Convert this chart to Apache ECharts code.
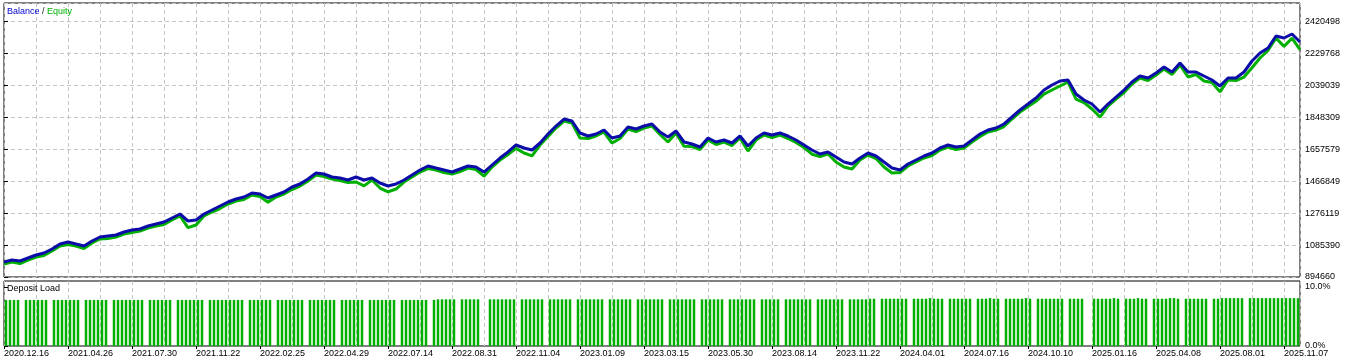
<!DOCTYPE html>
<html><head><meta charset="utf-8">
<script src="https://cdn.jsdelivr.net/npm/echarts@6/dist/echarts.min.js"></script>
<style>html,body{margin:0;padding:0;background:#fff}#c{width:1347px;height:364px}</style>
</head><body><div id="c"></div>
<script>
const dateLabels = ['2020.12.16','2021.04.26','2021.07.30','2021.11.22','2022.02.25','2022.04.29','2022.07.14','2022.08.31','2022.11.04','2023.01.09','2023.03.15','2023.05.30','2023.08.14','2023.11.22','2024.04.01','2024.07.16','2024.10.10','2025.01.16','2025.04.08','2025.08.01','2025.11.07'];
const yTickLabels = ['894660','1085390','1276119','1466849','1657579','1848309','2039039','2229768','2420498'];
const balance = [
984200,996200,990200,1008100,1026000,1038000,1061900,1091700,1103700,1091700,
1079800,1109700,1133500,1139500,1145500,1163400,1175300,1181300,1199200,1211200,
1223100,1247000,1270900,1229100,1235100,1270900,1294800,1318700,1342600,1360500,
1372400,1396300,1390300,1366400,1384400,1402300,1432100,1450100,1479900,1515700,
1509800,1491900,1485900,1473900,1491900,1473900,1485900,1456000,1438100,1450100,
1473900,1503800,1533700,1557600,1545600,1533700,1521700,1539600,1557600,1551600,
1521700,1563500,1605300,1641200,1683000,1665000,1653100,1694900,1748700,1796400,
1838200,1826300,1754600,1736700,1748700,1772500,1724800,1736700,1790500,1778500,
1796400,1808400,1760600,1730700,1766600,1700900,1688900,1671000,1724800,1700900,
1712800,1694900,1736700,1677000,1724800,1754600,1742700,1754600,1736700,1712800,
1683000,1653100,1629200,1641200,1611300,1581400,1569500,1605300,1635200,1617300,
1581400,1545600,1533700,1569500,1593400,1617300,1635200,1665000,1683000,1671000,
1677000,1712800,1748700,1772500,1784500,1808400,1850200,1892000,1927800,1963600,
2011400,2041300,2065200,2071100,1987500,1951700,1927800,1880000,1927800,1969600,
2011400,2059200,2095000,2083100,2112900,2148800,2118900,2172700,2118900,2118900,
2095000,2071100,2035300,2083100,2083100,2118900,2184600,2232400,2262200,2333900,
2322000,2345900,2298100];
const equity = [
972200,984200,975200,996100,1014000,1023000,1049900,1079700,1088700,1079700,
1064800,1097700,1121500,1124500,1133500,1151400,1160300,1169300,1187200,1199200,
1208100,1235000,1258900,1189100,1205100,1258900,1282800,1303700,1330600,1348500,
1357400,1384300,1375300,1341400,1372400,1390300,1417100,1438100,1467900,1503700,
1494800,1479900,1470900,1458900,1461900,1438900,1473900,1426000,1403100,1420100,
1461900,1491800,1521700,1542600,1533600,1518700,1509700,1524600,1545600,1536600,
1496700,1551500,1593300,1626200,1663000,1635000,1618100,1682900,1733700,1784400,
1826200,1814300,1724600,1721700,1736700,1760500,1694800,1721700,1778500,1763500,
1784400,1796400,1745600,1700700,1754600,1675900,1673900,1656000,1712800,1685900,
1700800,1679900,1724700,1647000,1712800,1742600,1727700,1742600,1721700,1697800,
1668000,1628100,1614200,1629200,1581300,1551400,1539500,1593300,1623200,1602300,
1551400,1515600,1518700,1557500,1581400,1605300,1620200,1653000,1671000,1656000,
1665000,1700800,1733700,1760500,1772500,1793400,1838200,1880000,1912800,1943600,
1986400,2011300,2035200,2059100,1957500,1936700,1897800,1850000,1915800,1957600,
1996400,2047200,2083000,2068100,2100900,2136800,2103900,2160700,2088900,2103900,
2065000,2056100,2000300,2071100,2068100,2088900,2144600,2202400,2247200,2321900,
2272000,2320900,2253100];
const depositLoad = [
7.8,7.8,7.8,7.8,0,7.8,7.8,7.8,7.8,7.8,7.8,0,7.8,7.8,7.8,7.8,7.8,7.8,7.8,0,
7.8,7.8,7.8,7.8,7.8,7.8,0,7.8,7.8,7.8,7.8,7.8,7.8,7.8,7.8,0,7.8,7.8,7.8,7.8,
7.8,7.8,0,7.8,7.8,7.8,7.8,7.8,7.8,7.8,0,7.8,7.8,7.8,7.8,7.8,7.8,7.8,7.8,7.8,
0,7.8,7.8,7.8,7.8,7.8,7.8,0,7.8,7.8,7.8,7.8,7.8,7.8,7.8,0,7.8,7.8,7.8,7.8,
7.8,7.8,7.8,0,7.8,7.8,7.8,7.8,7.8,7.8,0,7.8,7.8,7.8,7.8,7.8,7.8,7.8,0,7.8,
7.8,7.8,7.8,7.8,7.8,7.8,0,7.8,7.9,7.9,7.9,7.9,7.9,0,7.9,7.9,7.9,7.9,7.9,0,
0,7.9,7.9,7.9,7.9,7.9,7.9,7.9,0,7.9,7.9,7.9,7.9,7.9,7.9,0,7.9,7.9,7.9,7.9,
7.9,7.9,0,7.9,7.9,7.9,7.9,7.9,7.9,7.9,0,7.9,7.9,7.9,7.9,7.9,7.9,0,7.9,7.9,
7.9,7.9,7.9,7.9,7.9,0,7.9,7.9,7.9,7.9,7.9,7.9,7.9,0,7.9,7.9,7.9,7.9,7.9,7.9,
0,7.9,7.9,7.9,7.9,7.9,7.9,7.9,0,7.9,7.9,7.9,7.9,7.9,0,7.9,7.9,7.9,7.9,7.9,
7.9,7.9,0,7.9,7.9,7.9,7.9,7.9,7.9,7.9,0,7.9,7.9,7.9,7.9,7.9,8.0,8.0,0,8.0,
8.0,8.0,8.0,8.0,8.0,8.0,0,8.0,8.0,8.0,8.0,8.1,8.0,8.0,8.0,0,8.0,8.0,8.0,8.0,
8.0,8.0,0,8.0,8.0,8.0,8.1,8.0,8.0,0,8.0,8.0,8.0,8.0,8.0,8.1,8.0,0,8.0,8.0,
8.0,8.0,8.0,8.0,8.0,0,8.0,8.0,8.0,8.0,0,0,8.0,8.0,8.0,8.0,8.0,8.1,8.0,0,
8.0,8.0,8.0,8.1,8.0,8.0,0,8.0,8.0,8.0,8.0,8.1,8.1,8.0,0,8.0,8.0,8.0,8.0,8.0,
8.0,0,8.0,8.0,8.1,8.1,8.1,8.1,8.1,8.1,0,8.1,8.1,8.1,8.1,8.1,8.1,8.1,8.1,8.1,
8.1,8.1,8.1,8.1];

const FONT = '"Liberation Sans", Arial, sans-serif';
const Y_MIN = 894660, Y_STEP = 190729.75, Y_MAX = 2531000;
const TRADES = 324;
const GRID_DASH = { color: '#c4c4c4', type: [4, 3], width: 1 };

const chart = echarts.init(document.getElementById('c'), null, { renderer: 'canvas' });
chart.setOption({
  animation: false,
  backgroundColor: '#fff',
  title: [
    { text: '{b|Balance} {s|/} {e|Equity}', left: 7, top: 7, padding: 0,
      textStyle: { fontSize: 9, fontWeight: 'normal', fontFamily: FONT,
        rich: { b: { color: '#0000d0', fontSize: 9, fontFamily: FONT },
                s: { color: '#222', fontSize: 9, fontFamily: FONT },
                e: { color: '#00b000', fontSize: 9, fontFamily: FONT } } } },
    { text: 'Deposit Load', left: 7, top: 284.5, padding: 0,
      textStyle: { fontSize: 9, fontWeight: 'normal', fontFamily: FONT, color: '#000' } }
  ],
  grid: [
    { left: 4, top: 3, width: 1296, height: 274, show: true, borderColor: '#000', borderWidth: 1, backgroundColor: '#fff' },
    { left: 4, top: 281, width: 1296, height: 65, show: true, borderColor: '#000', borderWidth: 1, backgroundColor: '#fff' }
  ],
  xAxis: [
    { gridIndex: 0, type: 'value', min: 0, max: TRADES, interval: 8,
      axisLine: { show: false }, axisTick: { show: false }, axisLabel: { show: false },
      splitLine: { show: true, lineStyle: GRID_DASH } },
    { gridIndex: 1, type: 'value', min: 0, max: TRADES, interval: 8,
      axisLine: { show: false }, axisTick: { show: false }, axisLabel: { show: false },
      splitLine: { show: true, lineStyle: GRID_DASH } },
    { gridIndex: 1, type: 'value', min: 0, max: TRADES, interval: 16, position: 'bottom',
      axisLine: { show: false },
      axisTick: { show: true, length: 3, lineStyle: { color: '#000' } },
      axisLabel: { show: true, align: 'left', margin: 3, fontSize: 9, color: '#000', fontFamily: FONT,
        showMaxLabel: false,
        formatter: v => (v % 16 === 0 && dateLabels[v / 16]) ? dateLabels[v / 16] : '' },
      splitLine: { show: false } }
  ],
  yAxis: [
    { gridIndex: 0, type: 'value', position: 'right', min: Y_MIN, max: Y_MAX, interval: Y_STEP,
      axisLine: { show: false },
      axisTick: { show: true, length: 4, lineStyle: { color: '#000' } },
      axisLabel: { margin: 5, fontSize: 9, color: '#000', fontFamily: FONT, showMaxLabel: false,
        formatter: v => { const k = Math.round((v - Y_MIN) / Y_STEP);
          return (Math.abs(v - (Y_MIN + k * Y_STEP)) < 1 && yTickLabels[k]) ? yTickLabels[k] : ''; } },
      splitLine: { show: true, lineStyle: GRID_DASH } },
    { gridIndex: 1, type: 'value', position: 'right', min: 0, max: 11, interval: 10,
      axisLine: { show: false },
      axisTick: { show: true, length: 4, lineStyle: { color: '#000' } },
      axisLabel: { margin: 5, fontSize: 9, color: '#000', fontFamily: FONT, showMaxLabel: false,
        formatter: v => v === 0 ? '0.0%' : (v === 10 ? '10.0%' : '') },
      splitLine: { show: false } }
  ],
  series: [
    { type: 'line', name: 'Equity', xAxisIndex: 0, yAxisIndex: 0, showSymbol: false, z: 2,
      data: equity.map((v, i) => [i * 2, v]),
      lineStyle: { color: '#00b000', width: 3 } },
    { type: 'line', name: 'Balance', xAxisIndex: 0, yAxisIndex: 0, showSymbol: false, z: 3,
      data: balance.map((v, i) => [i * 2, v]),
      lineStyle: { color: '#0c0ca8', width: 3 } },
    { type: 'bar', name: 'Deposit Load', xAxisIndex: 1, yAxisIndex: 1, barWidth: 2.5,
      data: depositLoad.map((v, i) => [i + 0.5, v]),
      itemStyle: { color: '#00b000' } }
  ]
});
</script></body></html>
